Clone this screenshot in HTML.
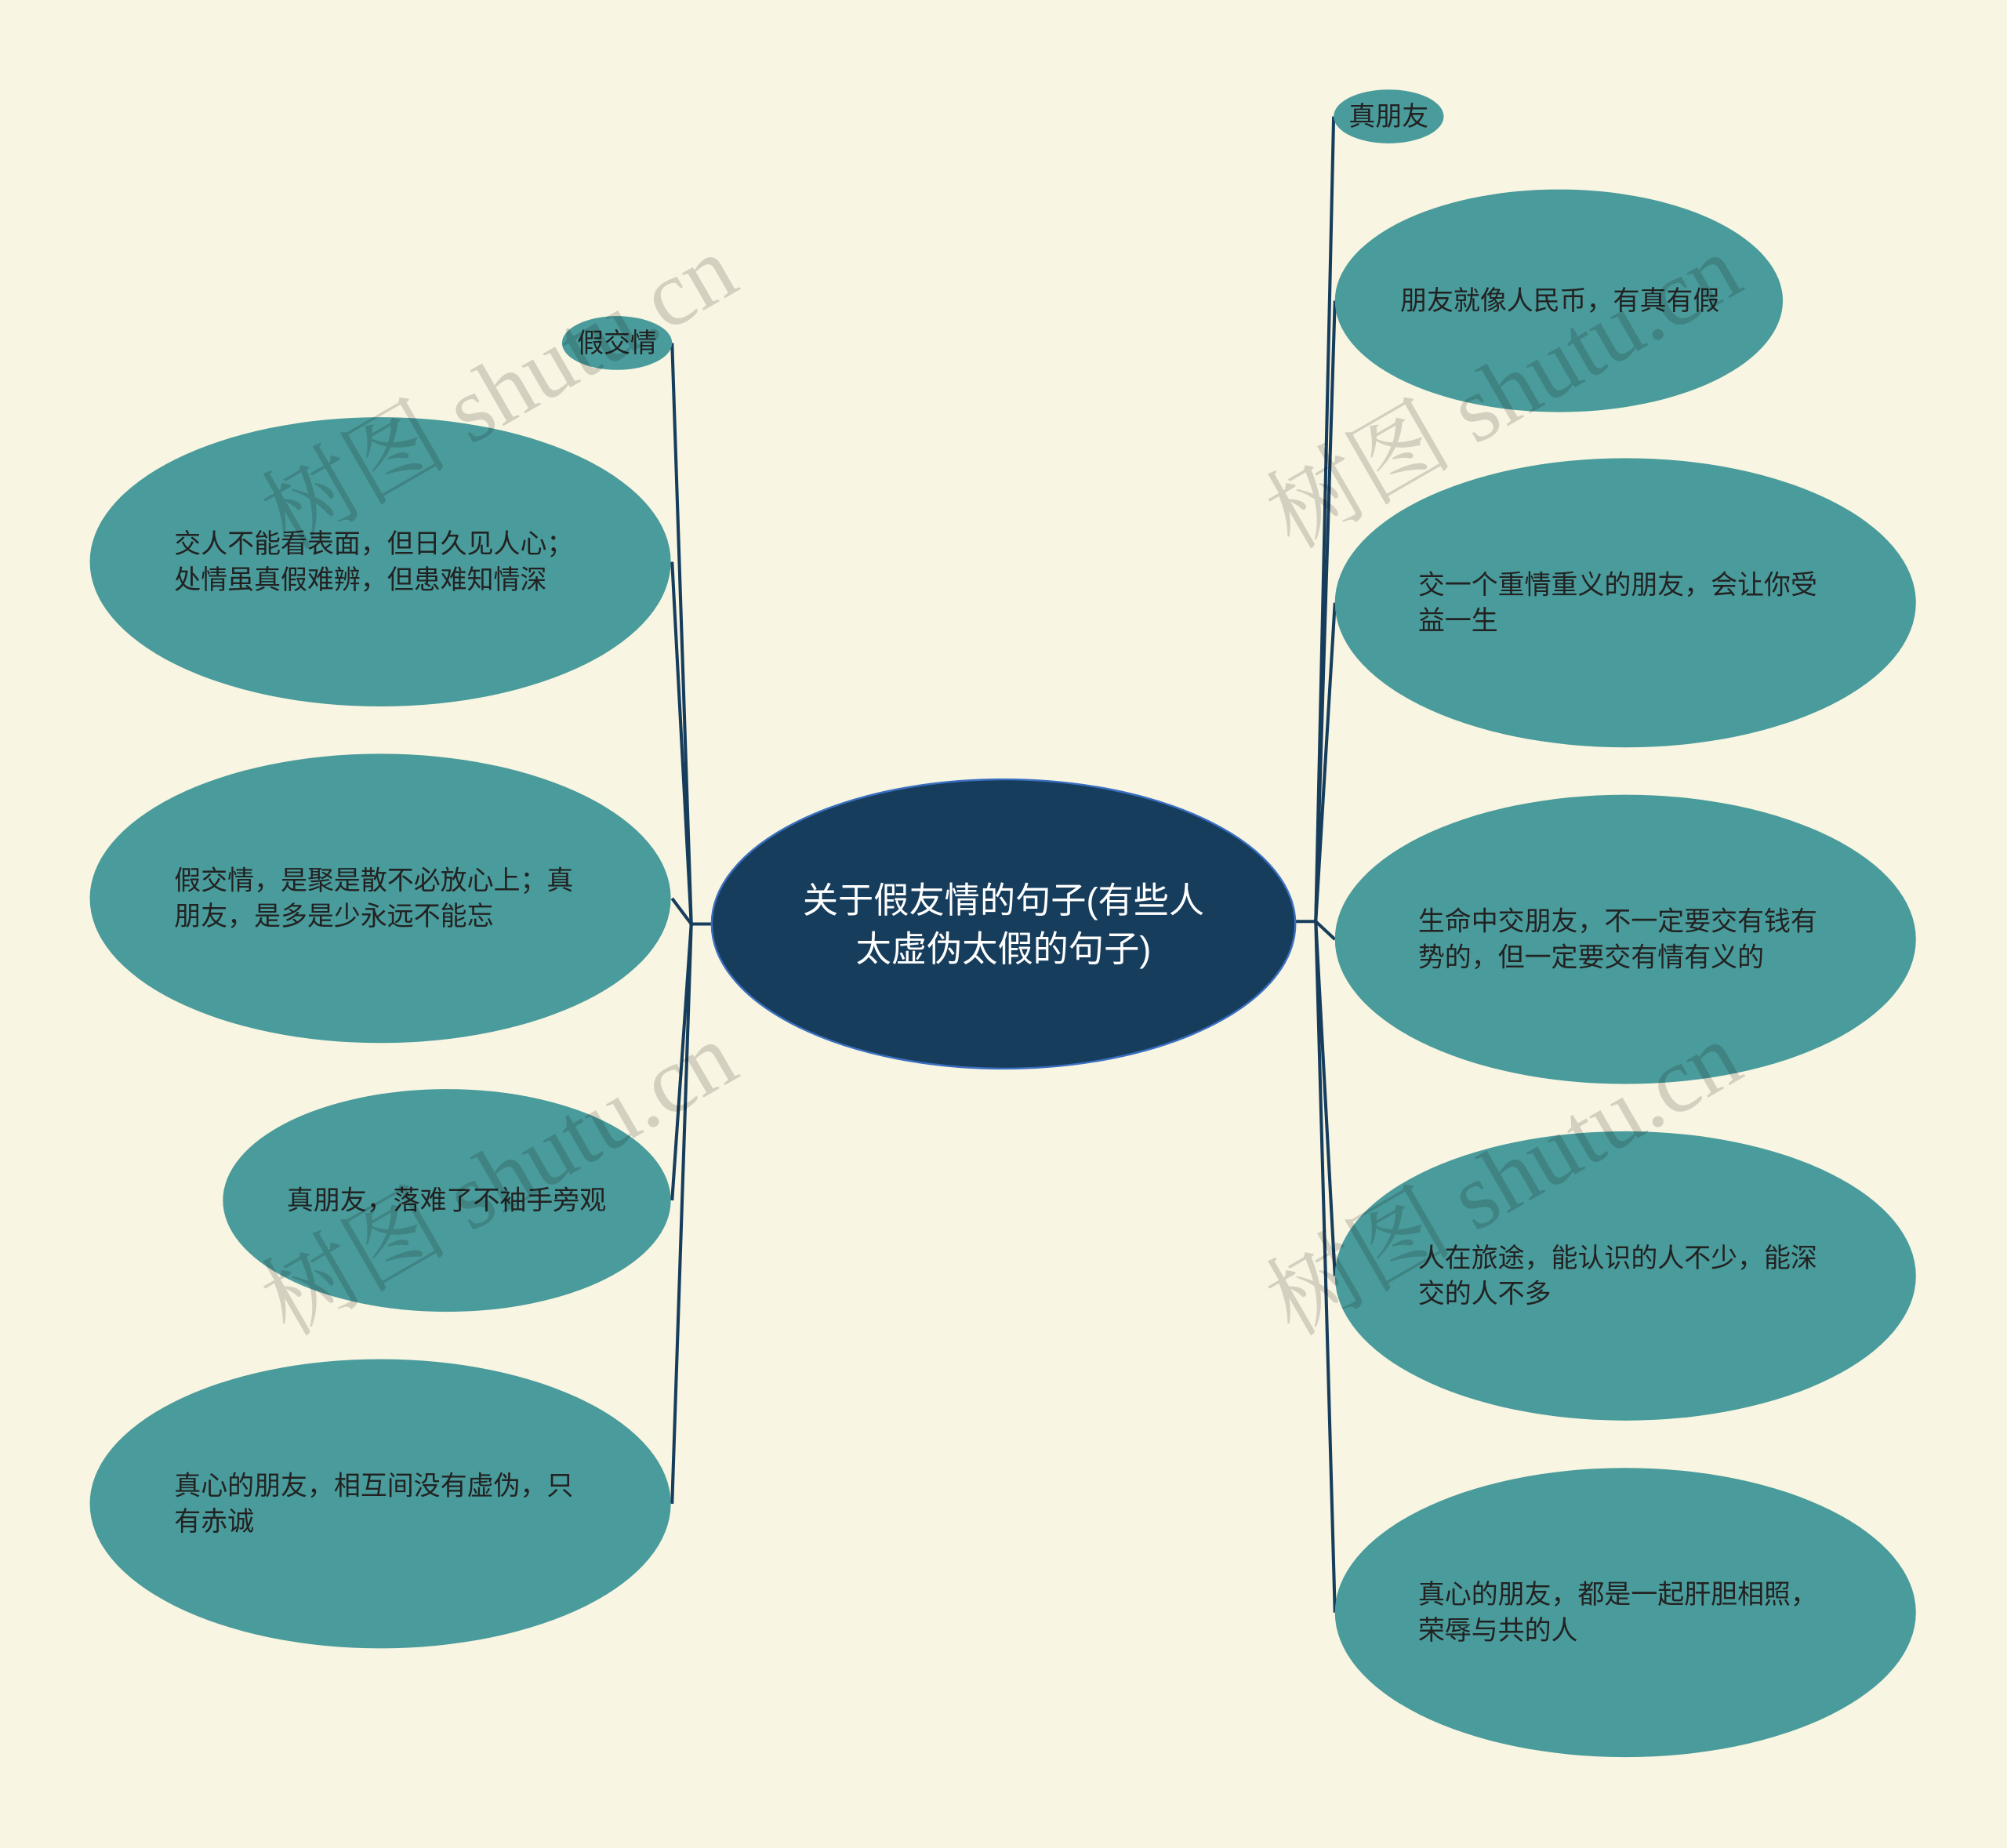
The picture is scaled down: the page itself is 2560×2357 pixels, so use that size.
<!DOCTYPE html>
<html><head><meta charset="utf-8"><style>
html,body{margin:0;padding:0;background:#f8f5e2;}
svg{display:block}
text{font-family:"Liberation Sans","Noto Sans CJK SC",sans-serif;}
</style></head><body>
<svg width="2560" height="2357" viewBox="0 0 1568 1444" xmlns="http://www.w3.org/2000/svg">
<rect width="1568" height="1444" fill="#f8f5e2"/>
<g stroke="#173d5c" stroke-width="2.5" fill="none">
<path d="M556 722 H540"/>
<path d="M540 722 L525 268"/>
<path d="M540 722 L525 439"/>
<path d="M540 722 L525 702"/>
<path d="M540 722 L525 938"/>
<path d="M540 722 L525 1175"/>
<path d="M1012 720 H1028"/>
<path d="M1028 720 L1042 91"/>
<path d="M1028 720 L1043 235"/>
<path d="M1028 720 L1043 471"/>
<path d="M1028 720 L1043 734"/>
<path d="M1028 720 L1043 997"/>
<path d="M1028 720 L1043 1260"/>
</g>
<g fill="#4a9b9b">
<ellipse cx="482" cy="268" rx="43" ry="21"/>
<ellipse cx="297" cy="439" rx="227" ry="113"/>
<ellipse cx="297" cy="702" rx="227" ry="113"/>
<ellipse cx="349" cy="938" rx="175" ry="87"/>
<ellipse cx="297" cy="1175" rx="227" ry="113"/>
<ellipse cx="1085" cy="91" rx="43" ry="21"/>
<ellipse cx="1218" cy="235" rx="175" ry="87"/>
<ellipse cx="1270" cy="471" rx="227" ry="113"/>
<ellipse cx="1270" cy="734" rx="227" ry="113"/>
<ellipse cx="1270" cy="997" rx="227" ry="113"/>
<ellipse cx="1270" cy="1260" rx="227" ry="113"/>
</g>
<ellipse cx="784" cy="722" rx="228" ry="113" fill="#173d5c" stroke="#3a6fc0" stroke-width="1.5"/>
<g fill="#ffffff" font-size="27.7" text-anchor="middle">
<text x="784" y="713">关于假友情的句子(有些人</text>
<text x="784" y="751">太虚伪太假的句子)</text>
</g>
<g fill="#222" font-size="20.8">
<text x="482" y="275" text-anchor="middle">假交情</text>
<text x="1085" y="98" text-anchor="middle">真朋友</text>
<text x="136" y="432">交人不能看表面，但日久见人心；</text>
<text x="136" y="460">处情虽真假难辨，但患难知情深</text>
<text x="136" y="695">假交情，是聚是散不必放心上；真</text>
<text x="136" y="723">朋友，是多是少永远不能忘</text>
<text x="224" y="945">真朋友，落难了不袖手旁观</text>
<text x="136" y="1168">真心的朋友，相互间没有虚伪，只</text>
<text x="136" y="1196">有赤诚</text>
<text x="1094" y="242">朋友就像人民币，有真有假</text>
<text x="1108" y="464">交一个重情重义的朋友，会让你受</text>
<text x="1108" y="492">益一生</text>
<text x="1108" y="727">生命中交朋友，不一定要交有钱有</text>
<text x="1108" y="755">势的，但一定要交有情有义的</text>
<text x="1108" y="990">人在旅途，能认识的人不少，能深</text>
<text x="1108" y="1018">交的人不多</text>
<text x="1108" y="1253">真心的朋友，都是一起肝胆相照，</text>
<text x="1108" y="1281">荣辱与共的人</text>
</g>
<g fill="#000" fill-opacity="0.15" font-size="73">
<text x="0" y="0" transform="translate(225,430) rotate(-30)" style="font-family:'Liberation Serif','Noto Serif CJK SC',serif">树图 shutu.cn</text>
<text x="0" y="0" transform="translate(225,1045) rotate(-30)" style="font-family:'Liberation Serif','Noto Serif CJK SC',serif">树图 shutu.cn</text>
<text x="0" y="0" transform="translate(1010,430) rotate(-30)" style="font-family:'Liberation Serif','Noto Serif CJK SC',serif">树图 shutu.cn</text>
<text x="0" y="0" transform="translate(1010,1045) rotate(-30)" style="font-family:'Liberation Serif','Noto Serif CJK SC',serif">树图 shutu.cn</text>
</g>
</svg>
</body></html>
